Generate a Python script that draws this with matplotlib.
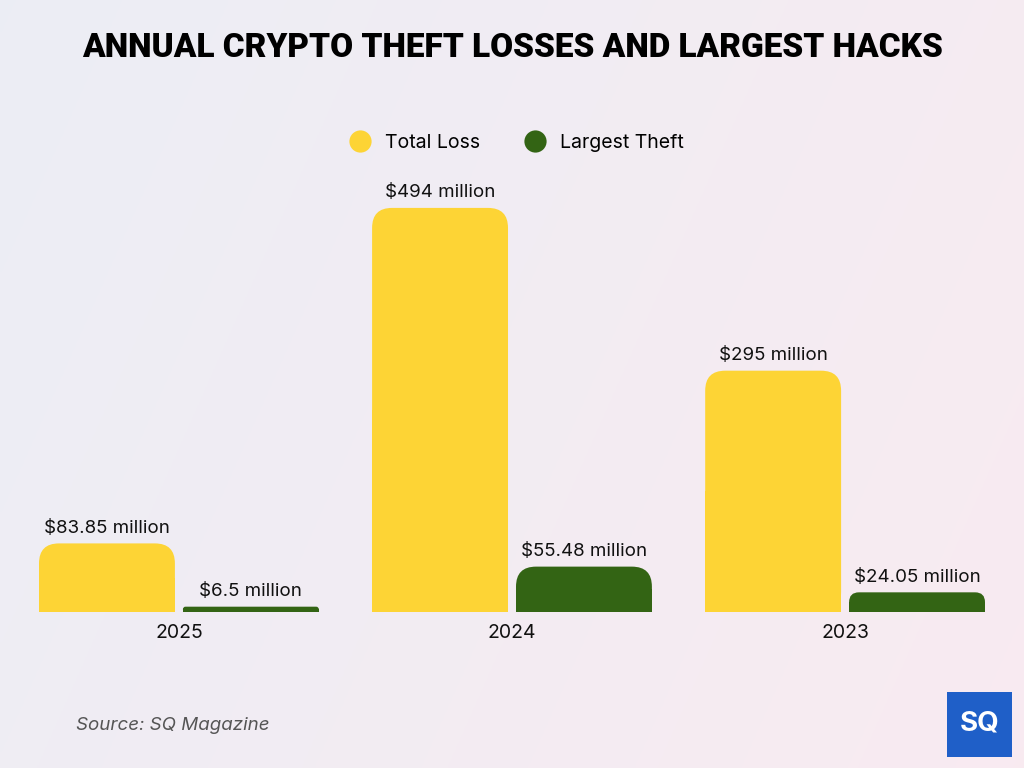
import numpy as np
import matplotlib.pyplot as plt
from matplotlib.patches import FancyBboxPatch, Rectangle
from matplotlib.lines import Line2D

years = ['2025', '2024', '2023']
total_loss = [83.85, 494, 295]
largest_theft = [6.5, 55.48, 24.05]
total_labels = ['$83.85 million', '$494 million', '$295 million']
theft_labels = ['$6.5 million', '$55.48 million', '$24.05 million']

yellow = '#FDD435'
green = '#336414'

plt.rcParams['font.family'] = ['Inter', 'DejaVu Sans']

fig = plt.figure(figsize=(10.24, 7.68), dpi=100)

# background gradient
bg = fig.add_axes([0, 0, 1, 1], zorder=-10)
gx = np.linspace(0, 1, 256)
gy = np.linspace(0, 1, 256)
X, Y = np.meshgrid(gx, gy)
c0 = np.array([0.925, 0.933, 0.960])
c1 = np.array([0.975, 0.920, 0.945])
t = np.clip(0.75 * X + 0.25 * (1 - Y), 0, 1)[..., None]
img = c0 * (1 - t) + c1 * t
bg.imshow(img, aspect='auto', extent=[0, 1, 0, 1], origin='lower')
bg.axis('off')

W, H = 1024, 768
left, right, bottom, top = 39, 985, 612, 100
ax = fig.add_axes([left / W, 1 - bottom / H, (right - left) / W, (bottom - top) / H])
ax.patch.set_alpha(0)

x = np.arange(len(years))
bw = 0.408
off = 0.216
ymax = (bottom - top) / 0.818
ax.set_xlim(-0.42, 2.42)
ax.set_ylim(0, ymax)

px_x = (right - left) / 2.84
px_y = (bottom - top) / ymax
aspect = px_x / px_y


def rounded_bar(xc, h, color):
    r_px = min(20, h * px_y / 2)
    r = r_px / px_x
    p = FancyBboxPatch((xc - bw / 2, 0), bw, h,
                       boxstyle='round,pad=0,rounding_size=%f' % r,
                       mutation_aspect=aspect, fc=color, ec='none')
    ax.add_patch(p)
    ax.add_patch(Rectangle((xc - bw / 2, 0), bw, h / 2, fc=color, ec='none'))


for i in range(len(years)):
    rounded_bar(x[i] - off, total_loss[i], yellow)
    rounded_bar(x[i] + off, largest_theft[i], green)
    ax.text(x[i] - off, total_loss[i] + 8, total_labels[i], ha='center', va='bottom',
            fontsize=13.5, color='#111111')
    ax.text(x[i] + off, largest_theft[i] + 8, theft_labels[i], ha='center', va='bottom',
            fontsize=13.5, color='#111111')

ax.set_xticks(x)
ax.set_xticklabels(years, fontsize=14, color='#111111')
ax.tick_params(axis='x', length=0, pad=9)
ax.set_yticks([])
for s in ax.spines.values():
    s.set_visible(False)

fig.text(0.5, 1 - 48 / H, 'ANNUAL CRYPTO THEFT LOSSES AND LARGEST HACKS',
         ha='center', va='center', fontsize=24, fontweight='black',
         family=['Roboto', 'DejaVu Sans'], color='#000000')

handles = [Line2D([], [], marker='o', ls='', ms=16, mfc=yellow, mec='none'),
           Line2D([], [], marker='o', ls='', ms=16, mfc=green, mec='none')]
fig.legend(handles, ['Total Loss', 'Largest Theft'], loc='center',
           bbox_to_anchor=(0.5, 1 - 143 / H), ncol=2, frameon=False,
           fontsize=14, handletextpad=0.3, columnspacing=1.8)

fig.text(76 / W, 1 - 725 / H, 'Source: SQ Magazine', ha='left', va='center',
         fontsize=13.5, style='italic', color='#555555')

# logo
fig.patches.append(Rectangle((947 / W, 1 - 757 / H), 65 / W, 65 / H,
                             transform=fig.transFigure, fc='#1f5fc8', ec='none'))
fig.text(979.5 / W, 1 - 724 / H, 'SQ', ha='center', va='center', fontsize=20,
         fontweight='bold', color='white')

fig.savefig('out.png', dpi=100)
